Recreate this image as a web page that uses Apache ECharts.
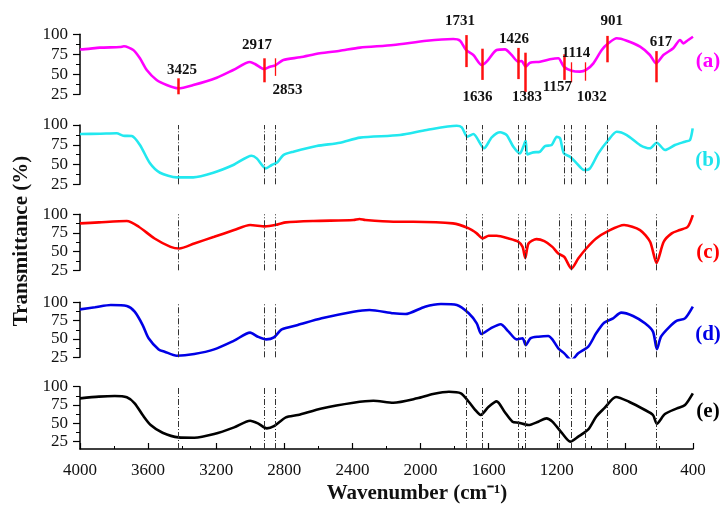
<!DOCTYPE html>
<html><head><meta charset="utf-8">
<script src="https://cdn.jsdelivr.net/npm/echarts@6/dist/echarts.min.js"></script>
<style>html,body{margin:0;padding:0;background:#fff}#c{width:723px;height:509px}</style>
</head><body><div id="c"></div>
<script>
// ---- data (wavenumber cm^-1, transmittance %) ----
const spectrumA = [[4000,81.5],[3994,81.2],[3883,83.3],[3765,84.1],[3742,85],[3687,80.4],[3648,70],[3608,55.4],[3550,42.9],[3491,36.6],[3423,32.5],[3335,36.6],[3197,45.8],[3100,55.4],[3002,65.4],[2972,62.9],[2919,56.6],[2884,59.5],[2853,61.2],[2806,67.9],[2708,71.2],[2591,76.2],[2473,79.5],[2356,83.3],[2160,86.6],[1964,92],[1808,94.1],[1768,92],[1733,80.4],[1690,74.1],[1641,61.6],[1612,65.8],[1553,80.4],[1504,81.2],[1465,74.1],[1426,65.8],[1406,66.6],[1383,59.5],[1357,64.5],[1298,65.8],[1240,68.7],[1191,70],[1158,59.5],[1113,54.5],[1064,53.3],[1028,55.4],[985,63.7],[936,80.4],[897,88.7],[848,95],[789,92],[711,84.5],[653,74.1],[617,63.7],[574,74.1],[516,82.5],[476,92.9],[457,88.7],[428,92.9],[400,97]];
const spectrumB = [[4000,88.5],[3994,88.6],[3880,89],[3785,89.5],[3746,86.5],[3696,86],[3648,74.7],[3589,51.5],[3530,39.6],[3432,33.8],[3335,33.8],[3217,39.6],[3100,49.4],[2992,61.2],[2962,57.8],[2909,45.2],[2874,49.4],[2841,52.8],[2806,62],[2747,66.2],[2610,73.4],[2473,77.6],[2356,84],[2121,87.3],[1964,93.7],[1788,99.1],[1758,97.1],[1725,85.2],[1690,88.6],[1627,70.5],[1582,84.4],[1533,90.8],[1494,87.3],[1455,72.5],[1416,64.1],[1397,72.5],[1383,80.1],[1373,62.9],[1338,65.4],[1299,66.2],[1269,73.4],[1230,74.7],[1200,85.2],[1181,83.2],[1158,64.1],[1122,59.9],[1083,51.5],[1040,43],[1005,45.2],[956,64.1],[897,81],[848,91.5],[789,87.3],[711,74.7],[653,70.5],[613,77.6],[564,68.4],[506,74.7],[447,78.9],[418,81],[402,95.8]];
const spectrumC = [[4000,87.8],[3889,89.2],[3725,91],[3655,83.3],[3562,67.6],[3468,56.4],[3417,54.2],[3329,60.9],[3212,69.9],[3095,78.9],[3001,85.6],[2913,83.8],[2838,86.5],[2791,89.2],[2628,91],[2394,92.3],[2359,93.8],[2324,92.3],[2160,90.1],[2043,90.1],[1810,87.8],[1717,81.1],[1670,74.4],[1635,67.6],[1600,71.2],[1553,71.2],[1483,67.6],[1425,63.2],[1401,56.4],[1385,41.6],[1366,60.9],[1319,66.7],[1273,64],[1226,56.4],[1191,47.4],[1156,43],[1114,27.3],[1074,40.7],[1027,54.2],[969,67.6],[899,77.5],[805,85.6],[711,78.9],[652,63.2],[614,35],[572,63.2],[525,74.4],[478,78.9],[431,83.3],[401,99]];
const spectrumD = [[4000,90.4],[3912,93.2],[3819,96.3],[3725,95],[3679,87.2],[3632,69],[3597,50.9],[3538,35.8],[3503,32.7],[3432,27.2],[3329,29.5],[3212,35.8],[3095,47.7],[3001,58.6],[2955,53.1],[2906,49.5],[2861,52.2],[2815,63.1],[2721,69],[2581,78.1],[2394,87.2],[2300,89.5],[2160,85],[2090,84],[1974,94.1],[1880,97.7],[1787,96.3],[1717,85],[1670,71.3],[1642,56.8],[1588,64.5],[1530,70],[1483,60],[1436,49.5],[1401,50.9],[1382,41.8],[1355,50.9],[1308,53.1],[1250,54],[1226,49.5],[1191,37.2],[1156,30.4],[1114,21],[1074,30.4],[1015,39.5],[969,57.7],[922,72.2],[869,78.1],[822,85.9],[752,81.3],[682,71.3],[635,60],[612,36],[588,53.1],[541,65.9],[494,75],[447,78.1],[401,94.1]];
const spectrumE = [[4000,84.1],[3889,86.4],[3796,87.3],[3725,85.5],[3679,77.3],[3632,61.4],[3585,47.7],[3515,37.2],[3422,30.9],[3329,30.4],[3212,35.4],[3095,44.5],[3001,53.6],[2955,50],[2903,43.2],[2861,46.3],[2791,58.2],[2721,61.4],[2581,70.4],[2394,78.2],[2277,80.9],[2160,78.2],[2020,84.1],[1927,90],[1833,93.2],[1763,90.9],[1717,79.5],[1682,69.1],[1647,61.4],[1600,72.7],[1553,80],[1507,65.9],[1460,52.3],[1425,50.9],[1366,47.7],[1308,52.3],[1261,56.8],[1226,52.3],[1168,36.3],[1121,25],[1074,31.8],[1015,41.8],[969,59.1],[922,70.4],[852,86],[776,79.5],[682,68.2],[635,61.4],[612,49.5],[565,62.7],[494,70.4],[447,75],[401,90.9]];

// peak markers in spectrum (a)
const markerWn     = [3425,2917,2853,1731,1636,1426,1383,1157,1114,1032,901,617];
const markerTop    = [45,70,70,99,82,83,77,75,65,65,98,79];
const markerBottom = [25,40,48,59,43,44,28,43,40,42,65,40];
// peak labels in spectrum (a)
const labelText = ['3425','2917','2853','1731','1636','1426','1383','1157','1114','1032','901','617'];
const labelWn   = [3401,2960,2781,1768,1666,1451,1375,1196,1087,995,877,588];
const labelT    = [55.4,86.6,30.4,116.6,21.6,94.1,21.6,34.1,76.6,21.6,116.6,90.4];
// dash-dot reference lines
const guideB   = [3425,2917,2853,1731,1636,1426,1383,1157,1114,1032,901,617];
const guideCDE = [3425,2917,2853,1731,1636,1426,1383,1183,1114,1032,901,617];

const panelNames = ['(a)','(b)','(c)','(d)','(e)'];
const yTickValues = [25,50,75,100];
const yMinorValues = [37.5,62.5,87.5];
const xLabels = [4000,3600,3200,2800,2400,2000,1600,1200,800,400];

const FONT = '"Liberation Serif","Times New Roman",serif';
const thinMarkers = [2853,1114,1032];

const panels = [
  {data: spectrumA, color:'#ff00ff', top:34.3, height:60, min:25, ly:62},
  {data: spectrumB, color:'#22e8ef', top:125, height:59.3, min:25, ly:161, guides: guideB},
  {data: spectrumC, color:'#ff0000', top:214.3, height:56, min:25, ly:253, guides: guideCDE},
  {data: spectrumD, color:'#0000e6', top:302.3, height:55, min:25, ly:335, guides: guideCDE},
  {data: spectrumE, color:'#000000', top:386.7, height:62.3, min:15, ly:412, guides: guideCDE}
];

const grids = [], xAxes = [], yAxes = [], series = [];
panels.forEach((p, i) => {
  grids.push({left:80, width:613, top:p.top, height:p.height});
  xAxes.push({
    gridIndex:i, type:'value', min:400, max:4000, interval:400, inverse:true, show: i === 4,
    axisLine:{show:true, onZero:false, lineStyle:{color:'#000', width:1.5}},
    axisTick:{show:true, inside:true, length:6, lineStyle:{color:'#000', width:1.2}},
    minorTick:{show:true, splitNumber:2, length:3, lineStyle:{color:'#000', width:1}},
    axisLabel:{show:true, fontFamily:FONT, fontSize:17, color:'#111', margin:13,
      formatter: v => xLabels.includes(v) ? String(v) : ''},
    splitLine:{show:false}, minorSplitLine:{show:false}
  });
  yAxes.push({
    gridIndex:i, type:'value', min:p.min, max:100, position:'left',
    axisLine:{show:true, lineStyle:{color:'#000', width:1.5}},
    axisTick:{show:true, customValues:yTickValues, length:7, lineStyle:{color:'#000', width:1.2}},
    axisLabel:{show:true, customValues:yTickValues, fontFamily:FONT, fontSize:17, color:'#111', margin:12},
    splitLine:{show:false}
  });
  yAxes.push({
    gridIndex:i, type:'value', min:p.min, max:100, position:'left',
    axisLine:{show:false},
    axisTick:{show:true, customValues:yMinorValues, length:4, lineStyle:{color:'#000', width:1}},
    axisLabel:{show:false}, splitLine:{show:false}
  });
  let markLine;
  if (i === 0) {
    markLine = {
      silent:true, symbol:['none','none'], animation:false, label:{show:false},
      data: markerWn.map((w, k) => [
        {coord:[w, markerTop[k]], lineStyle:{color:'#ff1010', width: thinMarkers.includes(w) ? 1.3 : 2.5, type:'solid'}},
        {coord:[w, markerBottom[k]]}
      ])
    };
  } else {
    markLine = {
      silent:true, symbol:['none','none'], animation:false, label:{show:false},
      lineStyle:{color:'#333', width:1, type:[6,2,1,2]},
      data: p.guides.map(w => ({xAxis:w}))
    };
  }
  series.push({
    type:'line', xAxisIndex:i, yAxisIndex:2*i, data:p.data, symbol:'none', smooth:0.25,
    lineStyle:{color:p.color, width:2.6}, animation:false, z:3, markLine
  });
});

const chart = echarts.init(document.getElementById('c'), null, {renderer:'canvas'});
chart.setOption({
  backgroundColor:'#fff', animation:false,
  grid:grids, xAxis:xAxes, yAxis:yAxes, series
});

const graphics = [];
labelText.forEach((t, k) => {
  const pt = chart.convertToPixel({seriesIndex:0}, [labelWn[k], labelT[k]]);
  graphics.push({type:'text', x:pt[0], y:pt[1], z:10,
    style:{text:t, font:'bold 15px ' + FONT, fill:'#111', textAlign:'center', textVerticalAlign:'middle'}});
});
panels.forEach((p, i) => {
  graphics.push({type:'text', x:708, y:p.ly, z:10,
    style:{text:panelNames[i], font:'bold 21px ' + FONT, fill:p.color === '#22e8ef' ? '#1ee3ec' : p.color, textAlign:'center', textVerticalAlign:'middle'}});
});
graphics.push({type:'text', x:22, y:241, rotation:Math.PI/2, z:10,
  style:{text:'Transmittance (%)', font:'bold 21px ' + FONT, fill:'#111', textAlign:'center', textVerticalAlign:'middle'}});
graphics.push({type:'text', x:417, y:494, z:10,
  style:{text:'Wavenumber (cm\u207B\u00B9)', font:'bold 21px ' + FONT, fill:'#111', textAlign:'center', textVerticalAlign:'middle'}});
chart.setOption({graphic:{elements:graphics}});
</script></body></html>
